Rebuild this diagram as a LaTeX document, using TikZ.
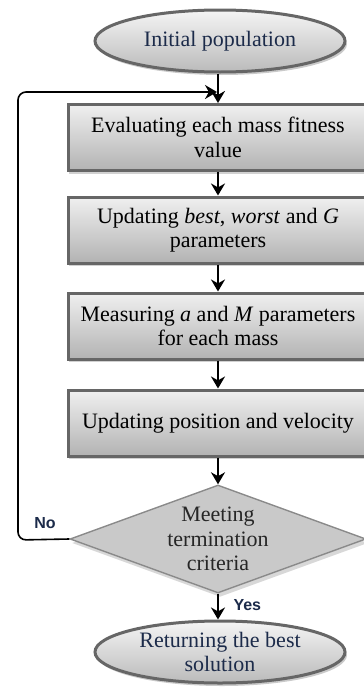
\documentclass[tikz,border=0pt]{standalone}
\usepackage{fontspec}
\setmainfont{Liberation Serif}
\newfontfamily\labelfont{Liberation Sans}
\usetikzlibrary{shapes.geometric,arrows.meta,shadows}
\definecolor{navy}{HTML}{1C2B4A}
\definecolor{bordergray}{HTML}{666666}
\definecolor{diamondfill}{HTML}{C9C9C9}
\definecolor{diamondborder}{HTML}{8A8A8A}
\begin{document}
\begin{tikzpicture}[x=1pt,y=1pt,
  every node/.style={font=\fontsize{22}{24.5}\selectfont},
  termbox/.style={ellipse, draw=bordergray, line width=3pt, inner sep=0pt,
    minimum width=250pt, minimum height=62pt, top color=white!96!black, bottom color=black!27,
    drop shadow={shadow xshift=2pt, shadow yshift=-3pt, fill=black!35, opacity=0.6},
    text=navy, align=center},
  procbox/.style={rectangle, draw=bordergray, line width=3pt, inner sep=0pt,
    minimum width=300pt, minimum height=66pt, top color=white!94!black, bottom color=black!30,
    drop shadow={shadow xshift=1pt, shadow yshift=-3pt, fill=black!30, opacity=0.6},
    align=center},
  decbox/.style={diamond, draw=diamondborder, line width=1.4pt, inner sep=0pt, aspect=2.74,
    minimum width=296pt, minimum height=108pt, fill=diamondfill,
    drop shadow={shadow xshift=2pt, shadow yshift=-4pt, fill=black!30, opacity=0.5}},
  flow/.style={line width=2.2pt, -{Stealth[length=12pt,width=14pt]}},
  loopline/.style={line width=1.6pt, rounded corners=8pt, -{Stealth[length=12pt,width=14pt]}},
  anslabel/.style={font=\labelfont\bfseries\fontsize{16}{18}\selectfont, text=navy}
]
\useasboundingbox (0,0) rectangle (364,-688);
\clip (0,0) rectangle (364,-688);

\node[termbox] (e1) at (220,-41) {Initial population};
\node[procbox] (b1) at (218,-137.5) {Evaluating each mass fitness\\value};
\node[procbox] (b2) at (218,-230) {Updating \textit{best}, \textit{worst} and \textit{G}\\parameters};
\node[procbox] (b3) at (218,-326) {Measuring \textit{a} and \textit{M} parameters\\for each mass};
\node[procbox] (b4) at (218,-423) {Updating position and velocity};
\node[decbox] (d) at (218,-539) {};
\node[align=center, text=black!85] (dt) at (218,-539) {Meeting\\termination\\criteria};
\node[termbox] (e2) at (220,-652) {Returning the best\\solution};

\coordinate (loopin) at (217,-92);
\coordinate (loopleft) at (18,-540);
\coordinate (looptop) at (18,-92);

\draw[flow] (e1.south -| b1.north) -- (b1.north);
\draw[flow] (b1) -- (b2);
\draw[flow] (b2) -- (b3);
\draw[flow] (b3) -- (b4);
\draw[flow] (b4) -- (d.north);
\draw[flow] (d.south) -- (e2.north -| d.south);
\draw[loopline] (d.west) -- (loopleft) -- (looptop) -- (loopin);

\node[anslabel] (no) at (45,-523) {No};
\node[anslabel, anchor=west] (yes) at (230,-605) {Yes};
\end{tikzpicture}
\end{document}
